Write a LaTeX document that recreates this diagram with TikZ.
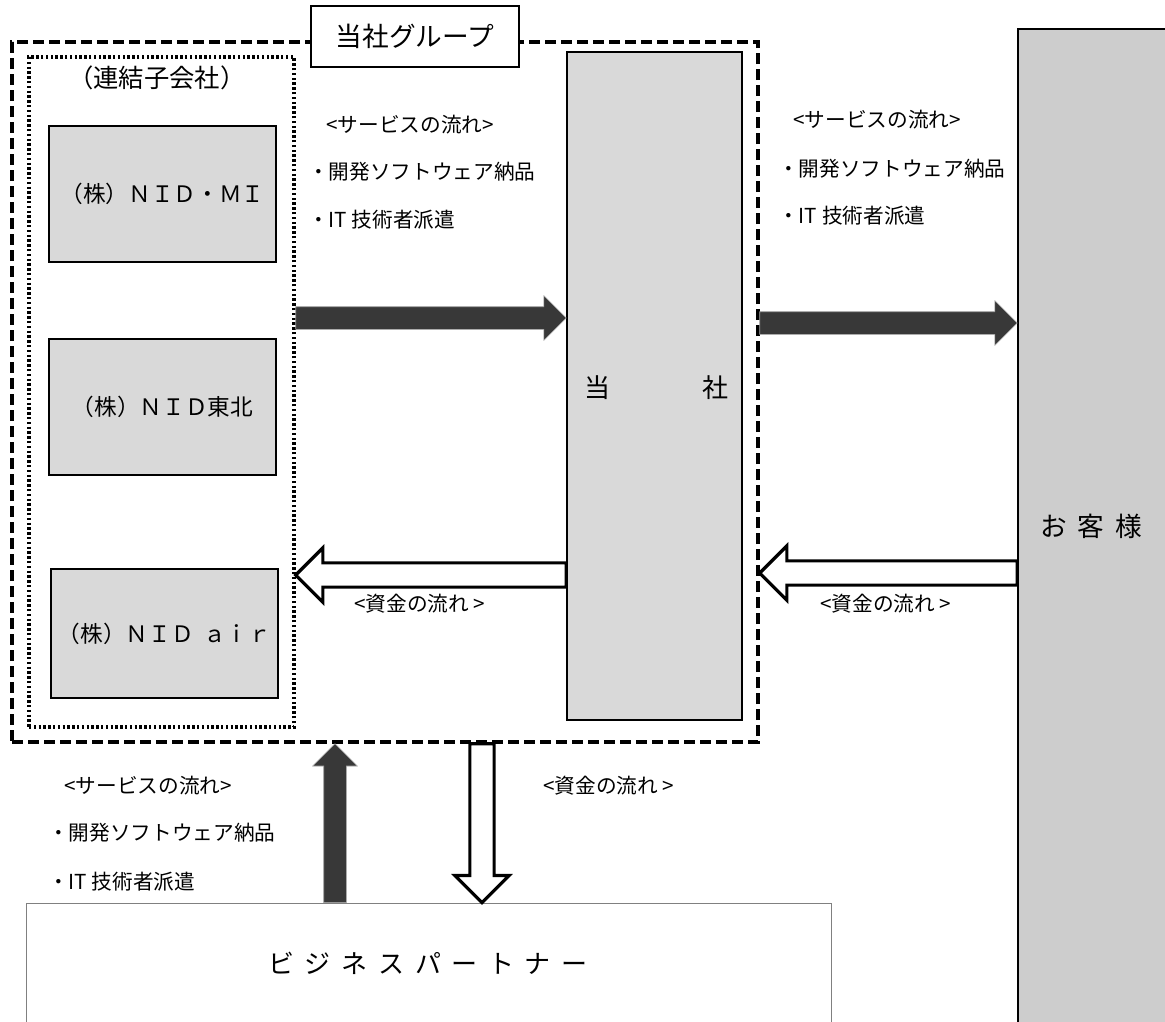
\documentclass[tikz,border=0pt]{standalone}
\usepackage{fontspec}
\setmainfont{Noto Sans CJK JP}
\usetikzlibrary{calc,shapes.arrows}
\definecolor{boxgray}{HTML}{D9D9D9}
\definecolor{custgray}{HTML}{CDCDCD}
\definecolor{arrowdark}{HTML}{383838}
\tikzset{
  grpbox/.style={draw, line width=2.6pt, dash pattern=on 8pt off 4pt, minimum width=559.5pt, minimum height=525pt, inner sep=0pt},
  subgrp/.style={draw, line width=2.6pt, dash pattern=on 1.8pt off 1.8pt, minimum width=198.75pt, minimum height=502.5pt, inner sep=0pt},
  company/.style={draw, line width=1.2pt, fill=boxgray, minimum width=170.25pt, inner sep=0pt, font=\fontsize{17}{20}\selectfont},
  flowtext/.style={anchor=west, inner sep=0pt, font=\fontsize{15.5}{18}\selectfont},
  darrow/.style={single arrow, fill=arrowdark, draw=gray!70, line width=0.4pt, inner xsep=0pt, inner ysep=8.25pt, single arrow head extend=8.25pt, single arrow head indent=0pt, single arrow tip angle=90, outer sep=0pt},
  warrow/.style={single arrow, fill=white, draw=black, line width=2.4pt, inner xsep=0pt, inner ysep=7.9pt, single arrow head extend=11.25pt, single arrow head indent=0pt, single arrow tip angle=90, outer sep=0pt}
}
% block arrow between two points, drawn as a single arrow node
\newcommand\blockarrow[4][darrow]{%
  \path let \p1=(#3), \p2=(#4), \n1={veclen(\x2-\x1,\y2-\y1)}, \n2={atan2(\y2-\y1,\x2-\x1)} in
    node[#1, minimum height=\n1, anchor=tail, rotate=-\n2] (#2) at (#3) {};}
\begin{document}
\begin{tikzpicture}[x=0.75pt,y=0.75pt,yscale=-1,xscale=1]
\useasboundingbox (0,0) rectangle (1165,1022);

% customers and business partner
\node [draw, line width=1.2pt, fill=custgray, minimum width=117.75pt, minimum height=750.75pt, inner sep=0pt] (kyaku) at (1096.5,529.5) {};
\node [font=\fontsize{20}{24}\selectfont] (kyakutxt) at (1091,526) {お\hspace{8pt}客\hspace{8pt}様};
\node [draw=gray, line width=0.6pt, minimum width=603.75pt, minimum height=102.75pt, inner sep=0pt] (bp) at (428.5,971.5) {};
\node [font=\fontsize{19.5}{23}\selectfont] (bptxt) at (428,963) {ビ\hspace{8pt}ジ\hspace{8pt}ネ\hspace{8pt}ス\hspace{8pt}パ\hspace{8pt}ー\hspace{8pt}ト\hspace{8pt}ナ\hspace{8pt}ー};

% group frame
\node [grpbox] (grp) at (385,392) {};
\node [draw, line width=1pt, fill=white, minimum width=156pt, minimum height=45.75pt, inner sep=0pt, font=\fontsize{20}{24}\selectfont] (grptitle) at (415,36.5) {当社グループ};
\node [subgrp] (sub) at (161.5,392) {};
\node [font=\fontsize{19}{23}\selectfont] (subtitle) at (157,78) {（連結子会社）};

% companies
\node [company, minimum height=102pt] (mi) at (162.5,194) {（株）ＮＩＤ・ＭＩ};
\node [company, minimum height=102pt] (tohoku) at (162.5,407) {（株）ＮＩＤ東北};
\node [company, minimum height=96.75pt] (air) at (164.5,633.5) {（株）ＮＩＤ\hspace{0.4em}ａｉｒ};
\node [draw, line width=1.2pt, fill=boxgray, minimum width=131.25pt, minimum height=501pt, inner sep=0pt] (tosha) at (654.5,386) {};
\node [font=\fontsize{19.5}{23}\selectfont] (toshatxt) at (656,388) {\makebox[108pt]{当\hfill 社}};

% arrow levels
\coordinate (lv1) at (0,318);
\coordinate (lv2) at (0,323);
\coordinate (lv3) at (0,575);
\coordinate (lv4) at (0,573);
\coordinate (col1) at (335,0);
\coordinate (col2) at (482,0);

\blockarrow{svcin}{sub.east |- lv1}{tosha.west |- lv1}
\blockarrow{svcout}{grp.east |- lv2}{kyaku.west |- lv2}
\blockarrow[warrow]{fundin}{tosha.west |- lv3}{sub.east |- lv3}
\blockarrow[warrow]{fundout}{kyaku.west |- lv4}{grp.east |- lv4}
\blockarrow{svcbp}{bp.north -| col1}{grp.south -| col1}
\blockarrow[warrow]{fundbp}{grp.south -| col2}{bp.north -| col2}

% flow labels
\node [flowtext] (svc1) at (326,125) {<サービスの流れ>};
\node [flowtext] (svc1a) at (308,172) {・開発ソフトウェア納品};
\node [flowtext] (svc1b) at (308,220) {・IT 技術者派遣};
\node [flowtext] (svc2) at (793,120) {<サービスの流れ>};
\node [flowtext] (svc2a) at (778,169) {・開発ソフトウェア納品};
\node [flowtext] (svc2b) at (778,216) {・IT 技術者派遣};
\node [flowtext] (svc3) at (64,786) {<サービスの流れ>};
\node [flowtext] (svc3a) at (48,833) {・開発ソフトウェア納品};
\node [flowtext] (svc3b) at (48,882) {・IT 技術者派遣};
\node [flowtext] (fund1) at (354,604) {<資金の流れ >};
\node [flowtext] (fund2) at (820,604) {<資金の流れ >};
\node [flowtext] (fund3) at (543,786) {<資金の流れ >};

\end{tikzpicture}
\end{document}
